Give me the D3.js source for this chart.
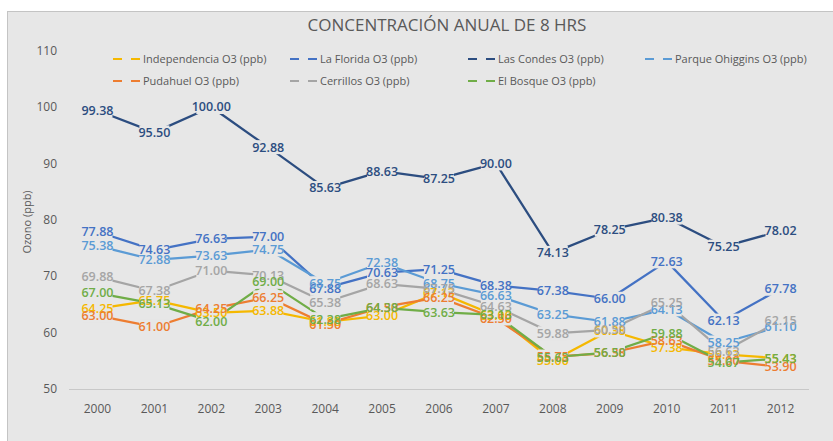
<!DOCTYPE html>
<html>
<head>
<meta charset="utf-8">
<script src="https://cdn.jsdelivr.net/npm/d3@7"></script>
<style>
  body { margin: 0; background: #fff; }
  text { font-family: "Open Sans", sans-serif; }
</style>
</head>
<body>
<script>
var width = 833,
    height = 441;

var years = ["2000", "2001", "2002", "2003", "2004", "2005", "2006",
             "2007", "2008", "2009", "2010", "2011", "2012"];

var independencia = [64.25, 65.75, 63.50, 63.88, 61.88, 63.00, 67.13, 63.00, 55.00, 60.38, 57.38, 56.13, 55.43];
var laFlorida     = [77.88, 74.63, 76.63, 77.00, 67.88, 70.63, 71.25, 68.38, 67.38, 66.00, 72.63, 62.13, 67.78];
var lasCondes     = [99.38, 95.50, 100.00, 92.88, 85.63, 88.63, 87.25, 90.00, 74.13, 78.25, 80.38, 75.25, 78.02];
var parqueOhiggins = [75.38, 72.88, 73.63, 74.75, 68.75, 72.38, 68.75, 66.63, 63.25, 61.88, 64.13, 58.25, 61.10];
var pudahuel      = [63.00, 61.00, 64.25, 66.25, 61.50, 64.50, 66.25, 62.50, 55.75, 56.38, 58.63, 55.00, 53.90];
var cerrillos     = [69.88, 67.38, 71.00, 70.13, 65.38, 68.63, 67.75, 64.63, 59.88, 60.50, 65.25, 56.63, 62.15];
var elBosque      = [67.00, 65.13, 62.00, 69.00, 62.38, 64.38, 63.63, 63.13, 55.63, 56.50, 59.88, 54.67, 55.43];

var yTicks = [50, 60, 70, 80, 90, 100, 110];

var series = [
  { name: "Independencia O3 (ppb)", values: independencia, color: "#f5b800" },
  { name: "La Florida O3 (ppb)", values: laFlorida, color: "#4472c4" },
  { name: "Las Condes O3 (ppb)", values: lasCondes, color: "#2c4d80" },
  { name: "Parque Ohiggins O3 (ppb)", values: parqueOhiggins, color: "#5b9bd5" },
  { name: "Pudahuel O3 (ppb)", values: pudahuel, color: "#ed7d31" },
  { name: "Cerrillos O3 (ppb)", values: cerrillos, color: "#a5a5a5" },
  { name: "El Bosque O3 (ppb)", values: elBosque, color: "#70ad47" }
];

var bg = "#e7e7e7";

var svg = d3.select("body").append("svg")
    .attr("width", width)
    .attr("height", height);

// chart area
svg.append("rect")
    .attr("x", 7.5)
    .attr("y", 11.5)
    .attr("width", width)
    .attr("height", height)
    .attr("fill", bg)
    .attr("stroke", "#c4c4c4");

svg.append("text")
    .attr("x", 447)
    .attr("y", 31)
    .attr("text-anchor", "middle")
    .attr("fill", "#595959")
    .style("font-size", "17px")
    .text("CONCENTRACIÓN ANUAL DE 8 HRS");

var x = d3.scalePoint()
    .domain(years)
    .range([69, 809])
    .padding(0.5);

var y = d3.scaleLinear()
    .domain([50, 110])
    .range([389, 50.6]);

// y axis labels
svg.append("g")
    .selectAll("text")
    .data(yTicks)
    .enter().append("text")
    .attr("x", 57)
    .attr("y", function(d) { return y(d); })
    .attr("dy", "0.35em")
    .attr("text-anchor", "end")
    .attr("fill", "#595959")
    .style("font-size", "12px")
    .text(function(d) { return d; });

svg.append("text")
    .attr("transform", "translate(31,222) rotate(-90)")
    .attr("text-anchor", "middle")
    .attr("fill", "#595959")
    .style("font-size", "11px")
    .text("Ozono (ppb)");

// x axis
svg.append("line")
    .attr("x1", 69)
    .attr("x2", 809)
    .attr("y1", y(50) + 0.5)
    .attr("y2", y(50) + 0.5)
    .attr("stroke", "#c8c8c8");

svg.append("g")
    .selectAll("text")
    .data(years)
    .enter().append("text")
    .attr("x", function(d) { return x(d); })
    .attr("y", 413)
    .attr("text-anchor", "middle")
    .attr("fill", "#595959")
    .style("font-size", "12px")
    .text(function(d) { return d; });

// legend
var legendPos = [[113, 59], [290, 59], [468, 59], [645, 59], [113, 81], [290, 81], [468, 81]];

var legend = svg.append("g")
    .selectAll("g")
    .data(series)
    .enter().append("g")
    .attr("transform", function(d, i) { return "translate(" + legendPos[i] + ")"; });

legend.append("path")
    .attr("d", "M0,0h9M18,0h9")
    .attr("stroke", function(d) { return d.color; })
    .attr("stroke-width", 2);

legend.append("text")
    .attr("x", 30)
    .attr("dy", "0.35em")
    .attr("fill", "#595959")
    .style("font-size", "11px")
    .text(function(d) { return d.name; });

// lines
var line = d3.line()
    .x(function(d, i) { return x(years[i]); })
    .y(function(d) { return y(d); });

svg.append("g")
    .selectAll("path")
    .data(series)
    .enter().append("path")
    .attr("d", function(d) { return line(d.values); })
    .attr("fill", "none")
    .attr("stroke", function(d) { return d.color; })
    .attr("stroke-width", 2.25)
    .attr("stroke-linejoin", "round");

// data labels: backgrounds first, then text
var points = [];
series.forEach(function(s) {
  s.values.forEach(function(v, i) {
    points.push({ year: years[i], value: v, color: s.color });
  });
});

svg.append("g")
    .selectAll("rect")
    .data(points)
    .enter().append("rect")
    .attr("x", function(d) { return x(d.year) - 15; })
    .attr("y", function(d) { return y(d.value) - 7; })
    .attr("width", 30)
    .attr("height", 14)
    .attr("fill", bg);

svg.append("g")
    .selectAll("text")
    .data(points)
    .enter().append("text")
    .attr("x", function(d) { return x(d.year); })
    .attr("y", function(d) { return y(d.value); })
    .attr("dy", "0.35em")
    .attr("text-anchor", "middle")
    .attr("fill", function(d) { return d.color; })
    .style("font-size", "12.5px")
    .style("font-weight", "600")
    .text(function(d) { return d.value.toFixed(2); });
</script>
</body>
</html>
